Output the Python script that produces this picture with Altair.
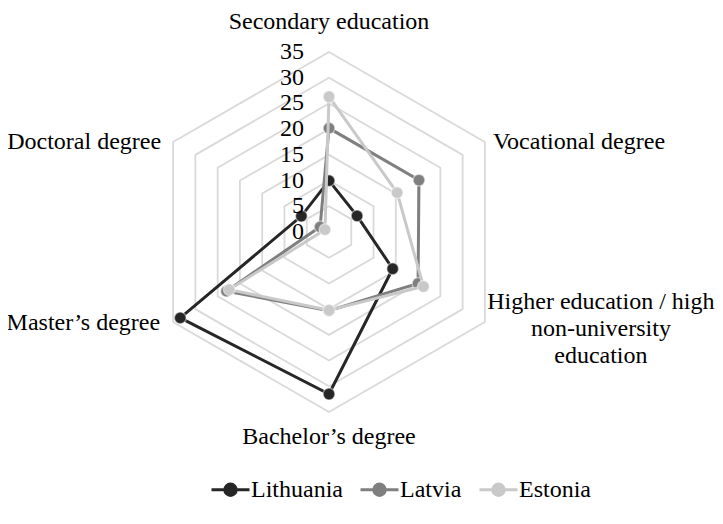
import altair as alt
import pandas as pd

# ---------------- data ----------------
categories = [
    "Secondary education",
    "Vocational degree",
    "Higher education / high\nnon-university\neducation",
    "Bachelor’s degree",
    "Master’s degree",
    "Doctoral degree",
]
countries = ["Lithuania", "Latvia", "Estonia"]
lithuania = [10.0, 6.3, 14.3, 31.5, 33.4, 6.2]
latvia = [20.2, 20.2, 20.0, 15.3, 23.0, 2.0]
estonia = [26.3, 15.3, 21.2, 15.2, 22.4, 0.9]
ring_values = [5, 10, 15, 20, 25, 30, 35]
tick_values = [0, 5, 10, 15, 20, 25, 30, 35]

series = {"Lithuania": lithuania, "Latvia": latvia, "Estonia": estonia}
series_df = pd.DataFrame(
    [{"country": c, "idx": i, "category": categories[i], "value": v}
     for c in countries for i, v in enumerate(series[c])]
)
rings_df = pd.DataFrame([{"ring": r, "idx": i, "value": r}
                         for r in ring_values for i in range(len(categories))])
ticks_df = pd.DataFrame({"value": tick_values, "idx": 0})
labels_df = pd.DataFrame({"idx": list(range(len(categories))),
                          "category": categories,
                          "value": max(ring_values)})

# ---------------- layout / style ----------------
W, H = 707, 508
CX, CY = 321, 224          # centre of the radar in plot coordinates
K = 180 / 35               # pixels per unit
FONT = "Liberation Serif"
FS = 24
line_colors = ["#262626", "#7f7f7f", "#c9c9c9"]

xscale = alt.Scale(domain=[-CX / K, (W - CX) / K], nice=False, zero=False)
yscale = alt.Scale(domain=[-(H - CY) / K, CY / K], nice=False, zero=False)
X = alt.X("px:Q", scale=xscale, axis=None)
Y = alt.Y("py:Q", scale=yscale, axis=None)


def polar(ch):
    return ch.transform_calculate(
        px="datum.value * sin(datum.idx * PI / 3)",
        py="datum.value * cos(datum.idx * PI / 3)",
    )


color_scale = alt.Scale(domain=countries, range=line_colors)
legend = alt.Legend(
    orient="none", legendX=202, legendY=461, direction="horizontal", title=None,
    symbolType="M-1,0H1M-0.3,0A0.3,0.3,0,1,1,0.3,0A0.3,0.3,0,1,1,-0.3,0",
    symbolSize=1444, symbolStrokeWidth=3, symbolOpacity=1, labelFont=FONT,
    labelFontSize=FS, labelColor="black", labelOffset=0, columnPadding=11,
    padding=0,
)

rings = polar(alt.Chart(rings_df)).mark_line(
    interpolate="linear-closed", color="#d9d9d9", strokeWidth=1.8
).encode(x=X, y=Y, detail="ring:N", order="idx:Q")

layers = [rings]
for c in countries:
    base = polar(alt.Chart(series_df).transform_filter(alt.datum.country == c))
    layers.append(base.mark_line(interpolate="linear-closed", strokeWidth=3).encode(
        x=X, y=Y, order="idx:Q",
        color=alt.Color("country:N", scale=color_scale, legend=legend)))
    layers.append(base.mark_circle(size=140, opacity=1, stroke="white",
                                   strokeOpacity=0.45, strokeWidth=1.5).encode(
        x=X, y=Y, color=alt.Color("country:N", scale=color_scale, legend=legend)))

ticks = polar(alt.Chart(ticks_df)).mark_text(
    align="right", baseline="middle", dx=-25, font=FONT, fontSize=FS, color="black"
).encode(x=X, y=Y, text="value:Q")
layers.append(ticks)

# category labels: (align, dx, dy) per axis
label_style = [
    ("center", 0, -30),
    ("left", 8, 0),
    ("center", 116, -20),
    ("center", 0, 25),
    ("right", -13, 1),
    ("right", -12, 0),
]
for i, (al, dx, dy) in enumerate(label_style):
    layers.append(
        polar(alt.Chart(labels_df).transform_filter(alt.datum.idx == i)).mark_text(
            align=al, baseline="middle", dx=dx, dy=dy, font=FONT, fontSize=FS,
            color="black", lineBreak="\n", lineHeight=27
        ).encode(x=X, y=Y, text="category:N")
    )

chart = alt.layer(*layers).properties(
    width=W, height=H, autosize=alt.AutoSizeParams(type="none"), padding=0,
    background="white",
).configure_view(stroke=None)

chart.save("out.html", embed_options={"renderer": "svg", "actions": False})
